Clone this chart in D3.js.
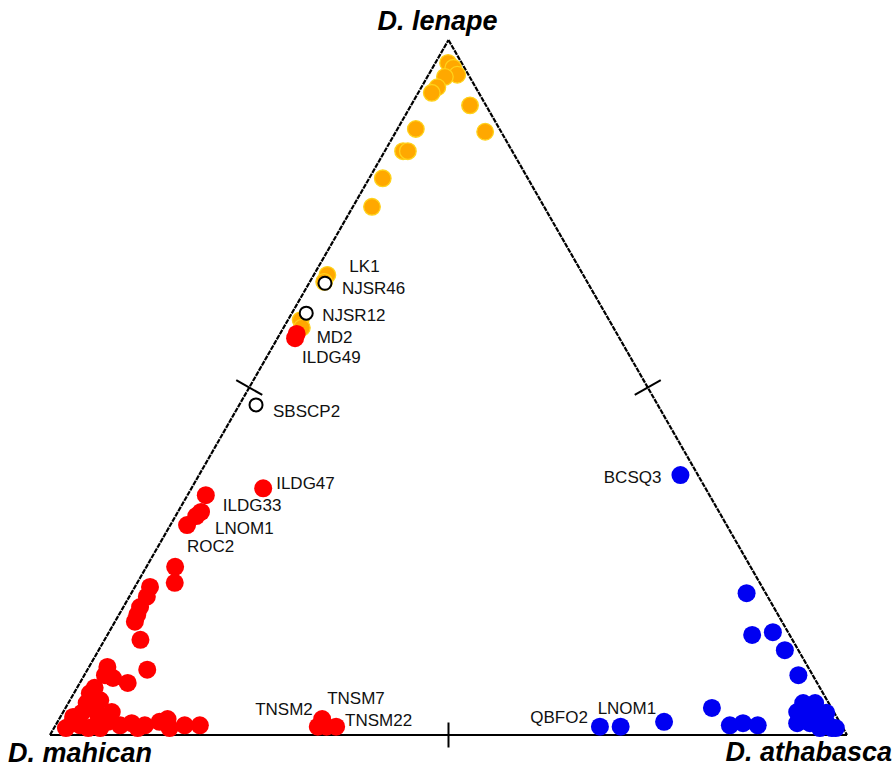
<!DOCTYPE html>
<html>
<head>
<meta charset="utf-8">
<script src="https://cdn.jsdelivr.net/npm/d3@7"></script>
<style>
  html, body { margin: 0; padding: 0; background: #fff; }
  svg { display: block; }
</style>
</head>
<body>
<svg id="chart" width="894" height="770"></svg>
<script>
// Ternary composition of each sample: [D. lenape, D. mahican, D. athabasca]
const vertexNames = ["D. lenape", "D. mahican", "D. athabasca"];

const lenapeSamples = [
  [0.967, 0.017, 0.016], [0.960, 0.014, 0.026], [0.950, 0.014, 0.036],
  [0.947, 0.031, 0.022], [0.932, 0.048, 0.020], [0.924, 0.059, 0.017],
  [0.906, 0.020, 0.074], [0.868, 0.020, 0.112], [0.872, 0.105, 0.023],
  [0.840, 0.137, 0.023], [0.840, 0.131, 0.029], [0.801, 0.182, 0.017],
  [0.760, 0.216, 0.024], [0.662, 0.321, 0.017], [0.652, 0.330, 0.018],
  [0.597, 0.387, 0.016], [0.586, 0.391, 0.023]
];

const mahicanSamples = [
  [0.577, 0.402, 0.021], [0.571, 0.407, 0.022], [0.355, 0.555, 0.090],
  [0.345, 0.632, 0.023], [0.321, 0.650, 0.029], [0.315, 0.659, 0.026],
  [0.302, 0.677, 0.021], [0.242, 0.722, 0.036], [0.219, 0.734, 0.047],
  [0.213, 0.768, 0.019], [0.199, 0.779, 0.022], [0.184, 0.795, 0.021],
  [0.173, 0.804, 0.023], [0.163, 0.812, 0.025], [0.137, 0.818, 0.045],
  [0.094, 0.831, 0.075], [0.098, 0.879, 0.023], [0.086, 0.888, 0.026],
  [0.082, 0.880, 0.038], [0.075, 0.865, 0.060], [0.060, 0.920, 0.020],
  [0.046, 0.931, 0.023], [0.032, 0.944, 0.024], [0.026, 0.958, 0.016],
  [0.017, 0.964, 0.019], [0.014, 0.955, 0.031], [0.014, 0.936, 0.050],
  [0.019, 0.918, 0.063], [0.014, 0.905, 0.081], [0.017, 0.889, 0.094],
  [0.014, 0.874, 0.112], [0.019, 0.853, 0.128], [0.023, 0.841, 0.136],
  [0.014, 0.824, 0.162], [0.014, 0.805, 0.181], [0.010, 0.947, 0.043],
  [0.010, 0.932, 0.058], [0.010, 0.885, 0.105], [0.010, 0.845, 0.145],
  [0.023, 0.647, 0.330], [0.012, 0.658, 0.330], [0.012, 0.647, 0.341],
  [0.012, 0.635, 0.353], [0.033, 0.925, 0.042], [0.050, 0.912, 0.038],
  [0.010, 0.975, 0.015], [0.033, 0.906, 0.061], [0.068, 0.910, 0.022]
];

const athabascaSamples = [
  [0.374, 0.022, 0.604], [0.204, 0.024, 0.772], [0.144, 0.047, 0.809],
  [0.148, 0.019, 0.833], [0.122, 0.017, 0.861], [0.086, 0.018, 0.896],
  [0.039, 0.150, 0.811], [0.014, 0.140, 0.846], [0.017, 0.122, 0.861],
  [0.014, 0.105, 0.881], [0.033, 0.046, 0.921], [0.017, 0.054, 0.929],
  [0.046, 0.017, 0.937], [0.032, 0.020, 0.948], [0.017, 0.038, 0.945],
  [0.017, 0.017, 0.966], [0.010, 0.014, 0.976], [0.032, 0.034, 0.934],
  [0.012, 0.304, 0.684], [0.012, 0.278, 0.710], [0.019, 0.220, 0.761],
  [0.046, 0.032, 0.922], [0.032, 0.010, 0.958], [0.010, 0.029, 0.961],
  [0.010, 0.009, 0.981]
];

const unassignedSamples = [
  [0.650, 0.330, 0.020], [0.607, 0.375, 0.018], [0.475, 0.504, 0.021]
];

// Sample names: [name, group, index of the sample in its group]
const sampleLabels = [
  ["LK1", "lenape", 13],
  ["NJSR46", "unassigned", 0],
  ["NJSR12", "unassigned", 1],
  ["MD2", "mahican", 0],
  ["ILDG49", "mahican", 1],
  ["SBSCP2", "unassigned", 2],
  ["ILDG47", "mahican", 2],
  ["ILDG33", "mahican", 3],
  ["LNOM1", "mahican", 4],
  ["ROC2", "mahican", 6],
  ["TNSM2", "mahican", 40],
  ["TNSM7", "mahican", 39],
  ["TNSM22", "mahican", 42],
  ["BCSQ3", "athabasca", 0],
  ["QBFO2", "athabasca", 18],
  ["LNOM1", "athabasca", 19]
];

// ---- layout ----
const groups = {
  lenape: lenapeSamples,
  mahican: mahicanSamples,
  athabasca: athabascaSamples,
  unassigned: unassignedSamples
};

// label offsets from the sample it names (px), and anchoring side
const labelPlacement = {
  "LK1|lenape": [22, -9, "start"],
  "NJSR46|unassigned": [17, 5, "start"],
  "NJSR12|unassigned": [16, 2, "start"],
  "MD2|mahican": [20, 3, "start"],
  "ILDG49|mahican": [7, 19, "start"],
  "SBSCP2|unassigned": [17, 6, "start"],
  "ILDG47|mahican": [13, -5, "start"],
  "ILDG33|mahican": [17, 10, "start"],
  "LNOM1|mahican": [14, 16, "start"],
  "ROC2|mahican": [0, 21, "start"],
  "TNSM2|mahican": [-5, -18, "end"],
  "TNSM7|mahican": [5, -21, "start"],
  "TNSM22|mahican": [9, -7, "start"],
  "BCSQ3|athabasca": [-19, 2, "end"],
  "QBFO2|athabasca": [-12, -10, "end"],
  "LNOM1|athabasca": [-23, -19, "start"]
};

const svg = d3.select("#chart");

// Cartesian frame of the triangle: x runs along the base, y up to the apex
const x = d3.scaleLinear().domain([0, 1]).range([50, 847]);
const y = d3.scaleLinear().domain([0, 1]).range([735, 40]);

function project(d) {
  const a = d[0], c = d[2];
  return [x(c + a / 2), y(a)];
}

const apexPt = project([1, 0, 0]);
const leftPt = project([0, 1, 0]);
const rightPt = project([0, 0, 1]);

// Triangle frame
const frame = svg.append("g");
frame.append("line")
  .attr("x1", leftPt[0]).attr("y1", leftPt[1])
  .attr("x2", rightPt[0]).attr("y2", rightPt[1])
  .attr("stroke", "#000").attr("stroke-width", 2);
[[leftPt, apexPt], [apexPt, rightPt]].forEach(([p, q]) => {
  frame.append("line")
    .attr("x1", p[0]).attr("y1", p[1])
    .attr("x2", q[0]).attr("y2", q[1])
    .attr("stroke", "#000").attr("stroke-width", 2.2)
    .attr("stroke-dasharray", "5,1");
});

// Midpoint ticks across each side
[[leftPt, apexPt], [apexPt, rightPt], [leftPt, rightPt]].forEach(([p, q], i) => {
  const m = [(p[0] + q[0]) / 2, (p[1] + q[1]) / 2];
  const dx = q[0] - p[0], dy = q[1] - p[1];
  const len = Math.hypot(dx, dy);
  const nx = -dy / len, ny = dx / len;
  const h = i === 2 ? 12.5 : 15;
  frame.append("line")
    .attr("x1", m[0] - nx * h).attr("y1", m[1] - ny * h)
    .attr("x2", m[0] + nx * h).attr("y2", m[1] + ny * h)
    .attr("stroke", "#000").attr("stroke-width", 2);
});

// Samples
const marks = svg.append("g");
marks.selectAll("circle.lenape")
  .data(lenapeSamples).join("circle")
  .attr("class", "lenape")
  .attr("cx", d => project(d)[0]).attr("cy", d => project(d)[1])
  .attr("r", 8.3)
  .attr("fill", "#FFA800").attr("stroke", "#FFD21A").attr("stroke-width", 1.3);

marks.selectAll("circle.mahican")
  .data(mahicanSamples).join("circle")
  .attr("class", "mahican")
  .attr("cx", d => project(d)[0]).attr("cy", d => project(d)[1])
  .attr("r", 9)
  .attr("fill", "#FF0000");

marks.selectAll("circle.athabasca")
  .data(athabascaSamples).join("circle")
  .attr("class", "athabasca")
  .attr("cx", d => project(d)[0]).attr("cy", d => project(d)[1])
  .attr("r", 9)
  .attr("fill", "#0000F2");

marks.selectAll("circle.unassigned")
  .data(unassignedSamples).join("circle")
  .attr("class", "unassigned")
  .attr("cx", d => project(d)[0]).attr("cy", d => project(d)[1])
  .attr("r", 6.5)
  .attr("fill", "#fff").attr("stroke", "#000").attr("stroke-width", 2);

// Sample names
svg.append("g").selectAll("text")
  .data(sampleLabels).join("text")
  .each(function ([name, group, idx]) {
    const p = project(groups[group][idx]);
    const [dx, dy, anchor] = labelPlacement[name + "|" + group];
    d3.select(this)
      .attr("x", p[0] + dx).attr("y", p[1] + dy)
      .attr("dy", "0.36em")
      .attr("text-anchor", anchor);
  })
  .attr("font-family", "'Liberation Sans', Arial, sans-serif")
  .attr("font-size", 17)
  .attr("fill", "#111")
  .text(d => d[0]);

// Vertex titles
const titles = svg.append("g")
  .attr("font-family", "'Liberation Sans', Arial, sans-serif")
  .attr("font-size", 27)
  .attr("font-weight", "bold")
  .attr("font-style", "italic")
  .attr("fill", "#000");
titles.append("text").attr("x", apexPt[0] - 11).attr("y", 30)
  .attr("text-anchor", "middle").text(vertexNames[0]);
titles.append("text").attr("x", leftPt[0] - 42).attr("y", 762)
  .attr("text-anchor", "start").text(vertexNames[1]);
titles.append("text").attr("x", rightPt[0] + 45).attr("y", 761)
  .attr("text-anchor", "end").text(vertexNames[2]);
</script>
</body>
</html>
